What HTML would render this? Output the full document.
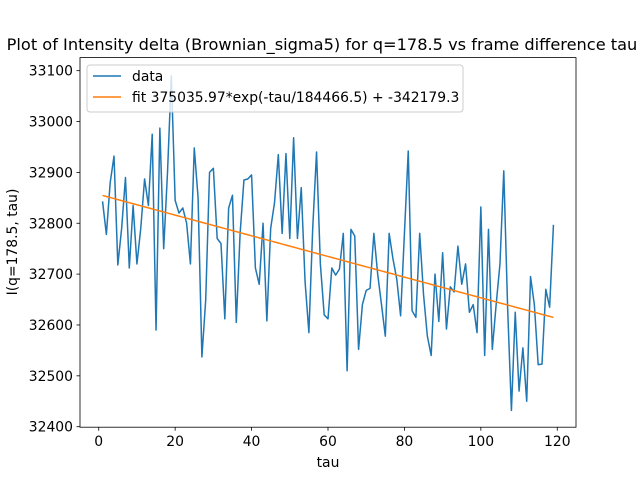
<!DOCTYPE html>
<html><head><meta charset="utf-8"><style>
html,body{margin:0;padding:0;background:#fff;overflow:hidden}
svg{display:block;font-family:"DejaVu Sans","Liberation Sans",sans-serif}
</style></head><body>
<svg id="chart" width="640" height="480" viewBox="0 0 640 480">
<rect width="640" height="480" fill="#fff"/>
<text x="322" y="50" text-anchor="middle" font-size="16.2">Plot of Intensity delta (Brownian_sigma5) for q=178.5 vs frame difference tau</text>
<g id="grid"></g>
<g id="series"></g>
<rect x="80" y="57.6" width="496" height="369.6" fill="none" stroke="#000" stroke-width="0.8"/>
<g id="ticks" font-size="13.9"></g>
<text x="328" y="467" text-anchor="middle" font-size="13.9">tau</text>
<text transform="translate(17,242) rotate(-90)" text-anchor="middle" font-size="13.9">I(q=178.5, tau)</text>
<g>
<rect x="87" y="65" width="376" height="47" rx="3" fill="#fff" fill-opacity="0.8" stroke="#ccc" stroke-width="1"/>
<line x1="93" y1="76" x2="121" y2="76" stroke="#1f77b4" stroke-width="1.5"/>
<text x="132" y="81" font-size="13.9">data</text>
<line x1="93" y1="97" x2="121" y2="97" stroke="#ff7f0e" stroke-width="1.5"/>
<text x="132" y="102" font-size="13.9">fit 375035.97*exp(-tau/184466.5) + -342179.3</text>
</g>
</svg>
<script>
const yValues=[32843,32778,32880,32932,32718,32790,32890,32712,32835,32720,32790,32887,32835,32975,32590,32987,32750,32900,33090,32845,32820,32830,32800,32720,32948,32850,32537,32650,32900,32908,32770,32760,32612,32830,32855,32605,32780,32885,32887,32895,32712,32680,32800,32608,32790,32840,32935,32780,32937,32770,32968,32770,32870,32685,32585,32790,32940,32720,32620,32612,32712,32698,32710,32780,32510,32788,32775,32552,32640,32668,32672,32780,32700,32640,32578,32780,32730,32690,32618,32780,32942,32628,32615,32780,32660,32578,32540,32700,32607,32742,32592,32675,32665,32755,32680,32720,32625,32640,32585,32832,32540,32788,32552,32640,32720,32903,32635,32432,32625,32470,32555,32450,32695,32640,32522,32523,32670,32635,32797];
const fitA=375035.97, fitTau=184466.5, fitC=-342179.3;
const xTicks=[0,20,40,60,80,100,120];
const yTicks=[32400,32500,32600,32700,32800,32900,33000,33100];
const x0=80,x1=576,yTop=57.6,yBot=427.2;
const xmin=-4.9,xmax=124.9,ymin=32399,ymax=33125.7;
const X=v=>x0+(v-xmin)/(xmax-xmin)*(x1-x0);
const Y=v=>yBot-(v-ymin)/(ymax-ymin)*(yBot-yTop);
const NS="http://www.w3.org/2000/svg";
const series=document.getElementById('series');
const ticks=document.getElementById('ticks');
let d='';
yValues.forEach((v,i)=>{d+=(i?'L':'M')+X(i+1).toFixed(2)+','+Y(v).toFixed(2);});
const p=document.createElementNS(NS,'path');
p.setAttribute('d',d);p.setAttribute('fill','none');p.setAttribute('stroke','#1f77b4');p.setAttribute('stroke-width','1.5');p.setAttribute('stroke-linejoin','round');


series.appendChild(p);
let f='';
yValues.forEach((v,i)=>{const t=i+1;const fv=fitA*Math.exp(-t/fitTau)+fitC;f+=(i?'L':'M')+X(t).toFixed(2)+','+Y(fv).toFixed(2);});
const fp=document.createElementNS(NS,'path');
fp.setAttribute('d',f);fp.setAttribute('fill','none');fp.setAttribute('stroke','#ff7f0e');fp.setAttribute('stroke-width','1.5');


series.appendChild(fp);
xTicks.forEach(t=>{
 const l=document.createElementNS(NS,'line');
 l.setAttribute('x1',X(t));l.setAttribute('x2',X(t));l.setAttribute('y1',yBot);l.setAttribute('y2',yBot+3.5);l.setAttribute('stroke','#000');l.setAttribute('stroke-width','0.8');
 
 
 ticks.appendChild(l);
 const tx=document.createElementNS(NS,'text');
 tx.setAttribute('x',X(t));tx.setAttribute('y',yBot+19);tx.setAttribute('text-anchor','middle');tx.textContent=t;
 
 
 ticks.appendChild(tx);
});
yTicks.forEach(t=>{
 const l=document.createElementNS(NS,'line');
 l.setAttribute('x1',x0-3.5);l.setAttribute('x2',x0);l.setAttribute('y1',Y(t));l.setAttribute('y2',Y(t));l.setAttribute('stroke','#000');l.setAttribute('stroke-width','0.8');
 
 
 ticks.appendChild(l);
 const tx=document.createElementNS(NS,'text');
 tx.setAttribute('x',x0-7);tx.setAttribute('y',Y(t)+5);tx.setAttribute('text-anchor','end');tx.textContent=t;
 
 
 ticks.appendChild(tx);
});
</script>
</body></html>
